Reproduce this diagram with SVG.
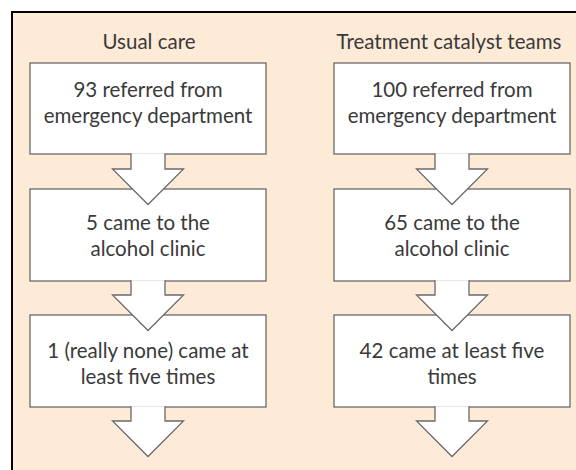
<svg xmlns="http://www.w3.org/2000/svg" width="576" height="470" viewBox="0 0 576 470">
<style>
.t{font-family:Lato,"Liberation Sans",sans-serif;font-size:20.5px;fill:#3a3a3a;text-anchor:middle}
.box{fill:#ffffff;stroke:#6a6a6a;stroke-width:1.3}
.arr{fill:#ffffff;stroke:#6a6a6a;stroke-width:1.3;stroke-linejoin:miter}
</style>
<rect x="0" y="0" width="576" height="470" fill="#ffffff"/>
<rect x="12" y="12" width="580" height="480" fill="#fdebd8" stroke="#000000" stroke-width="2"/>
<text class="t" x="149" y="49">Usual care</text>
<text class="t" x="449" y="49">Treatment catalyst teams</text>
<g id="u1"><rect class="box" x="30" y="63" width="236" height="91"/><text class="t" x="148" y="97">93 referred from</text><text class="t" x="148" y="123">emergency department</text></g>
<g id="u2"><rect class="box" x="30" y="189" width="236" height="92"/><text class="t" x="148" y="230">5 came to the</text><text class="t" x="148" y="256">alcohol clinic</text></g>
<g id="u3"><rect class="box" x="30" y="315" width="236" height="92"/><text class="t" x="148" y="358">1 (really none) came at</text><text class="t" x="148" y="384">least five times</text></g>
<g id="t1"><rect class="box" x="334" y="63" width="236" height="91"/><text class="t" x="452" y="97">100 referred from</text><text class="t" x="452" y="123">emergency department</text></g>
<g id="t2"><rect class="box" x="334" y="189" width="236" height="92"/><text class="t" x="452" y="230">65 came to the</text><text class="t" x="452" y="256">alcohol clinic</text></g>
<g id="t3"><rect class="box" x="334" y="315" width="236" height="92"/><text class="t" x="452" y="358">42 came at least five</text><text class="t" x="452" y="384">times</text></g>
<g id="connectors">
<path class="arr" d="M131 153.3V169H112.5L148 204.5L183.5 169H165V153.3"/>
<path class="arr" d="M131 280.3V295H112.5L148 330.5L183.5 295H165V280.3"/>
<path class="arr" d="M131 406.3V421H112.5L148 456.5L183.5 421H165V406.3"/>
<path class="arr" d="M435 153.3V169H416.5L452 204.5L487.5 169H469V153.3"/>
<path class="arr" d="M435 280.3V295H416.5L452 330.5L487.5 295H469V280.3"/>
<path class="arr" d="M435 406.3V421H416.5L452 456.5L487.5 421H469V406.3"/>
</g>
</svg>
